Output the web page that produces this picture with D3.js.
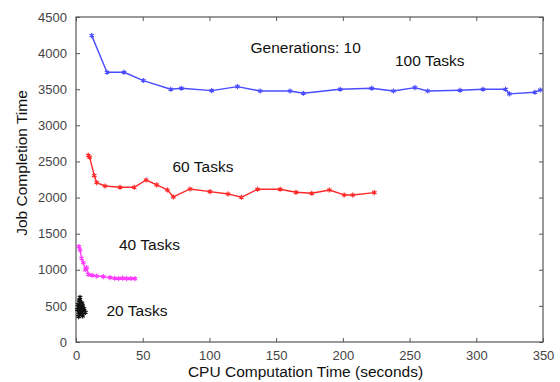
<!DOCTYPE html>
<html>
<head>
<meta charset="utf-8">
<script src="https://cdn.jsdelivr.net/npm/d3@7"></script>
<style>
  body { margin: 0; background: #fff; }
  svg { display: block; font-family: "Liberation Sans", Arial, sans-serif; }
</style>
</head>
<body>
<svg id="chart" width="560" height="382"></svg>
<script>
// ---- Data ----
const xTicks = [0, 50, 100, 150, 200, 250, 300, 350];
const yTicks = [0, 500, 1000, 1500, 2000, 2500, 3000, 3500, 4000, 4500];

const tasks100X = [11.8, 23.2, 36, 50.5, 71, 79, 101.7, 121, 138, 160.4, 170.4, 198, 221.6, 237.9, 254, 263.6, 287.9, 305, 322, 324.8, 344, 348];
const tasks100Y = [4242, 3735, 3735, 3620, 3500, 3513, 3480, 3536, 3476, 3476, 3444, 3500, 3513, 3476, 3522, 3476, 3486, 3500, 3500, 3435, 3458, 3490];

const tasks60X = [9.2, 10.2, 13.7, 15.5, 21.7, 33, 43.7, 52.5, 60.5, 68.5, 73, 85.5, 100.4, 114, 124, 136, 153, 164.9, 176.7, 189.9, 201, 207.4, 223.6];
const tasks60Y = [2585, 2560, 2304, 2207, 2160, 2142, 2142, 2243, 2175, 2105, 2008, 2119, 2082, 2050, 2004, 2115, 2115, 2073, 2059, 2105, 2036, 2036, 2068];

const tasks40X = [2.2, 3, 4.2, 5.5, 7, 8, 9.2, 12, 15.5, 20.5, 25.5, 29, 32, 35, 38, 41, 44.2];
const tasks40Y = [1320, 1274, 1160, 1098, 1000, 1029, 937, 925, 914, 905, 891, 882, 880, 884, 878, 880, 877];

const tasks20X = [1, 2, 1.5, 3, 2.5, 4, 3.5, 5, 4.5, 6, 5, 7, 6, 3, 2];
const tasks20Y = [450, 380, 520, 420, 580, 400, 480, 360, 540, 430, 500, 410, 460, 620, 350];

const seriesNames = ["100 Tasks", "60 Tasks", "40 Tasks", "20 Tasks"];
const seriesColors = ["#4a4cff", "#ff2a2a", "#ff3cff", "#111111"];

// ---- Layout ----
const svg = d3.select("#chart");
const margin = { left: 76, right: 17, top: 17, bottom: 40 };
const W = 560, H = 382;
const x = d3.scaleLinear().domain([0, 350]).range([margin.left, W - margin.right]);
const y = d3.scaleLinear().domain([0, 4500]).range([H - margin.bottom, margin.top]);

const axisColor = "#555";
const tickColor = "#444";
const fmt = d3.format("d");

// frame
svg.append("rect")
  .attr("x", x(0)).attr("y", y(4500))
  .attr("width", x(350) - x(0)).attr("height", y(0) - y(4500))
  .attr("fill", "none").attr("stroke", axisColor).attr("stroke-width", 1.2);

function styleAxis(g) {
  g.select(".domain").remove();
  g.selectAll(".tick line").attr("stroke", axisColor);
  g.selectAll(".tick text").attr("fill", tickColor).style("font-size", "13px");
}

// bottom axis (ticks inside)
svg.append("g").attr("transform", `translate(0,${y(0)})`)
  .call(d3.axisBottom(x).tickValues(xTicks).tickFormat(fmt).tickSizeInner(-4).tickSizeOuter(0).tickPadding(9))
  .call(styleAxis);
// top ticks
svg.append("g").attr("transform", `translate(0,${y(4500)})`)
  .call(d3.axisTop(x).tickValues(xTicks).tickSizeInner(-4).tickSizeOuter(0).tickFormat(""))
  .call(styleAxis);
// left axis
svg.append("g").attr("transform", `translate(${x(0)},0)`)
  .call(d3.axisLeft(y).tickValues(yTicks).tickFormat(fmt).tickSizeInner(-4).tickSizeOuter(0).tickPadding(9))
  .call(styleAxis);
// right ticks
svg.append("g").attr("transform", `translate(${x(350)},0)`)
  .call(d3.axisRight(y).tickValues(yTicks).tickSizeInner(-4).tickSizeOuter(0).tickFormat(""))
  .call(styleAxis);

// ---- Series ----
const allSeries = [
  { xs: tasks100X, ys: tasks100Y },
  { xs: tasks60X, ys: tasks60Y },
  { xs: tasks40X, ys: tasks40Y },
  { xs: tasks20X, ys: tasks20Y }
];
const line = d3.line().x(d => x(d[0])).y(d => y(d[1]));
const sym = d3.symbol().type(d3.symbolAsterisk || d3.symbolTimes).size(18);

allSeries.forEach((s, i) => {
  const pts = s.xs.map((v, j) => [v, s.ys[j]]);
  svg.append("path").datum(pts)
    .attr("d", line)
    .attr("fill", "none")
    .attr("stroke", seriesColors[i])
    .attr("stroke-width", i === 3 ? 1.6 : 1.4)
    .attr("stroke-linejoin", "round");
  svg.append("g").selectAll("path").data(pts).join("path")
    .attr("transform", d => `translate(${x(d[0])},${y(d[1])})`)
    .attr("d", sym)
    .attr("fill", "none")
    .attr("stroke", seriesColors[i])
    .attr("stroke-width", 1.2);
});

// ---- Annotations ----
const ann = [
  { t: "Generations: 10", px: 250.5, py: 53 },
  { t: seriesNames[0], px: 395, py: 66 },
  { t: seriesNames[1], px: 172.5, py: 172 },
  { t: seriesNames[2], px: 119, py: 250 },
  { t: seriesNames[3], px: 106.5, py: 316 }
];
svg.append("g").selectAll("text").data(ann).join("text")
  .attr("x", d => d.px).attr("y", d => d.py)
  .attr("fill", "#111")
  .style("font-size", "15.5px")
  .text(d => d.t);

// axis labels
svg.append("text")
  .attr("x", (x(0) + x(350)) / 2 - 4).attr("y", 377)
  .attr("text-anchor", "middle")
  .attr("fill", "#111")
  .style("font-size", "15.5px")
  .text("CPU Computation Time (seconds)");

svg.append("text")
  .attr("transform", "translate(27,163) rotate(-90)")
  .attr("text-anchor", "middle")
  .attr("fill", "#111")
  .style("font-size", "15.5px")
  .text("Job Completion Time");
</script>
</body>
</html>
